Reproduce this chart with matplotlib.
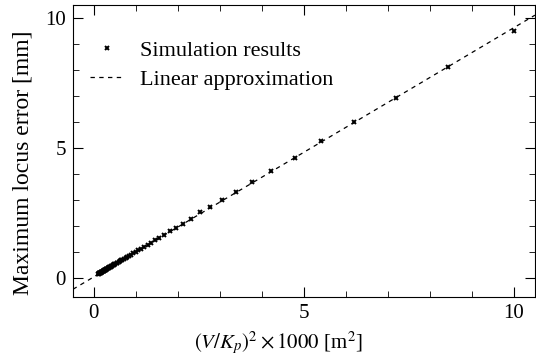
import matplotlib.pyplot as plt
import numpy as np

plt.rcParams['font.family'] = ['Liberation Serif', 'DejaVu Serif']
plt.rcParams['mathtext.fontset'] = 'stix'

# Simulation results
sim_x = [10.0, 8.42, 7.19, 6.2, 5.41, 4.78, 4.22, 3.77, 3.38, 3.05, 2.76, 2.52,
         2.31, 2.13, 1.96, 1.81, 1.68, 1.56, 1.46, 1.36, 1.28, 1.20, 1.13, 1.06,
         1.00, 0.94, 0.89, 0.84, 0.80, 0.76, 0.72, 0.68, 0.65, 0.62, 0.59, 0.56,
         0.54, 0.51, 0.49, 0.47, 0.45, 0.43, 0.41, 0.40, 0.38, 0.37, 0.35, 0.34,
         0.33, 0.31, 0.30, 0.29, 0.28, 0.27, 0.26, 0.25, 0.24, 0.23, 0.22, 0.21,
         0.20, 0.19, 0.18, 0.17, 0.16, 0.15, 0.14, 0.13, 0.12, 0.11, 0.10]
sim_y = [9.51, 8.10, 6.91, 5.99, 5.25, 4.61, 4.10, 3.69, 3.31, 2.99, 2.74, 2.51,
         2.26, 2.08, 1.92, 1.78, 1.65, 1.54, 1.44, 1.35, 1.27, 1.19, 1.12, 1.06,
         1.00, 0.94, 0.89, 0.85, 0.81, 0.77, 0.73, 0.69, 0.66, 0.64, 0.61, 0.58,
         0.56, 0.53, 0.51, 0.49, 0.47, 0.45, 0.43, 0.42, 0.40, 0.40, 0.38, 0.37,
         0.36, 0.34, 0.33, 0.32, 0.31, 0.30, 0.29, 0.28, 0.27, 0.26, 0.25, 0.24,
         0.23, 0.22, 0.21, 0.20, 0.19, 0.18, 0.17, 0.16, 0.16, 0.15, 0.14]

# Linear approximation
slope = 0.96
intercept = 0.03

fig = plt.figure(figsize=(5.36, 3.61), dpi=100)
ax = fig.add_axes([0.136, 0.177, 0.862, 0.809])

xl = np.array([-0.5, 10.5])
ax.plot(xl, slope * xl + intercept, 'k--', lw=0.9, dashes=(3.5, 3.5),
        label='Linear approximation')
ax.plot(sim_x, sim_y, 'kx', ms=3.5, mew=1.4, ls='none',
        label='Simulation results')

ax.set_xlim(-0.5, 10.5)
ax.set_ylim(-0.75, 10.5)
ax.set_xticks([0, 5, 10])
ax.set_yticks([0, 5, 10])
ax.set_xticks(range(0, 11), minor=True)
ax.set_yticks(range(0, 11), minor=True)
ax.tick_params(which='both', direction='in', top=True, right=True, labelsize=15)
ax.tick_params(which='major', length=7, pad=5)
ax.tick_params(which='minor', length=4)

ax.set_xlabel(r'$(V/K_p)^2\times1000$ [m$^2$]', fontsize=15)
ax.set_ylabel('Maximum locus error [mm]', fontsize=17)
ax.xaxis.set_label_coords(0.444, -0.11)
ax.yaxis.set_label_coords(-0.085, 0.46)

h, l = ax.get_legend_handles_labels()
ax.legend(h[::-1], l[::-1], loc='upper left', frameon=False, fontsize=16,
          handlelength=1.5, handletextpad=0.75, borderpad=0, borderaxespad=0,
          labelspacing=0.4, bbox_to_anchor=(0.037, 0.88))

fig.savefig('out.png', dpi=100)
